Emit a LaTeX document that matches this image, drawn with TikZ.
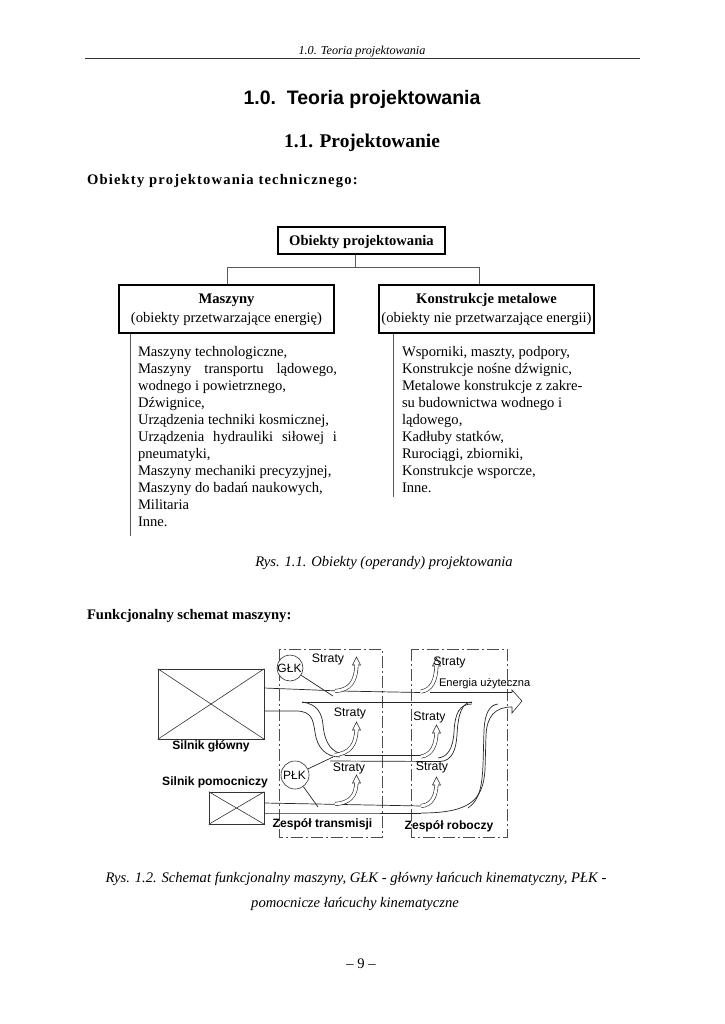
\documentclass[tikz,border=0pt]{standalone}
\usepackage{fontspec}
\setmainfont{Liberation Serif}
\newfontfamily\hv{Liberation Sans}
\usetikzlibrary{calc}
\tikzset{
  txt/.style={inner sep=0pt,outer sep=0pt},
  body/.style={txt,anchor=north west,align=left,font=\fontsize{14.6}{17}\selectfont},
  obox/.style={draw,line width=1.1pt,inner sep=0pt,minimum height=48pt},
  thin gray/.style={draw=black!65,line width=.6pt},
  lab/.style={txt,font=\hv\fontsize{12.3}{14}\selectfont},
  blab/.style={txt,font=\hv\bfseries\fontsize{12.1}{14}\selectfont},
  zone/.style={draw=black!70,line width=.7pt,dash pattern=on 12pt off 3pt on 2pt off 3pt},
  mach/.style={draw=black!80,line width=.6pt},
  flow/.style={draw=black!85,line width=.7pt},
  tube/.style={draw=black!85,line width=.6pt,double=white,double distance=2.8pt},
  head/.style={draw=black!85,line width=.6pt,fill=white},
  circ/.style={draw=black!80,line width=.6pt,circle,fill=white,inner sep=0pt},
}
\newcommand{\uparr}[2]{\draw[head] (#1-1.5,#2+8) -- (#1-4,#2+8) -- (#1,#2) -- (#1+4,#2+8) -- (#1+1.5,#2+8);}
\begin{document}
\begin{tikzpicture}[x=1pt,y=-1pt]
\useasboundingbox (0,0) rectangle (724,1024);
\fill[white] (0,0) rectangle (724,1024);
% header
\node[txt,font=\itshape\fontsize{12.2}{14}\selectfont] (hdr) at (362,51.5) {1.0. Teoria projektowania};
\coordinate (r1) at (85,58); \coordinate (r2) at (640,58);
\draw[line width=.4pt,black!80] (r1) -- (r2);
\node[txt,font=\hv\bfseries\fontsize{19.5}{22}\selectfont] (t1) at (362,99.5) {1.0.\ \ Teoria projektowania};
\node[txt,font=\bfseries\fontsize{19.4}{22}\selectfont] (t2) at (362,143) {1.1. Projektowanie};
\node[txt,anchor=west,font=\bfseries\fontsize{14.6}{17}\selectfont\addfontfeature{LetterSpace=8}] (h1) at (87,181) {Obiekty projektowania technicznego:};
% tree
\node[obox,minimum width=167pt,minimum height=27pt] (root) at (361.5,240.5) {};
\node[txt,font=\bfseries\fontsize{14.6}{17}\selectfont] (roott) at (361.5,242.5) {Obiekty projektowania};
\node[obox,minimum width=215pt,align=center,font=\fontsize{14.6}{19}\selectfont] (m) at (226.5,309) {};
\node[txt,align=center,font=\fontsize{14.6}{19}\selectfont] (mt) at (226.5,310) {\textbf{Maszyny}\\(obiekty przetwarzające energię)};
\node[obox,minimum width=215pt,align=center,font=\fontsize{14.6}{19}\selectfont] (k) at (486.5,309) {};
\node[txt,align=center,font=\fontsize{14.6}{19}\selectfont] (kt) at (486.5,310) {\textbf{Konstrukcje metalowe}\\(obiekty nie przetwarzające energii)};
\coordinate (j0) at ($(root.south)+(-6.5,13)$);
\draw[thin gray] ($(root.south)+(-6.5,0)$) -- (j0) -| (m.north -| 227,285);
\draw[thin gray] (j0) -| (k.north -| 479,285);
\coordinate (b1) at (130,334); \coordinate (b1e) at (130,536);
\coordinate (b2) at (393,334); \coordinate (b2e) at (393,497);
\draw[thin gray] (b1) -- (b1e);
\draw[thin gray] (b2) -- (b2e);
\node[body] (ml) at (138,346.5) {Maszyny technologiczne,\\
\makebox[199pt][s]{Maszyny transportu lądowego,}\\
wodnego i powietrznego,\\
Dźwignice,\\
Urządzenia techniki kosmicznej,\\
\makebox[199pt][s]{Urządzenia hydrauliki siłowej i}\\
pneumatyki,\\
Maszyny mechaniki precyzyjnej,\\
Maszyny do badań naukowych,\\
Militaria\\
Inne.};
\node[body] (kl) at (402,346.5) {Wsporniki, maszty, podpory,\\
Konstrukcje nośne dźwignic,\\
Metalowe konstrukcje z zakre-\\
su budownictwa wodnego i\\
lądowego,\\
Kadłuby statków,\\
Rurociągi, zbiorniki,\\
Konstrukcje wsporcze,\\
Inne.};
\node[txt,font=\itshape\fontsize{14.6}{17}\selectfont] (c1) at (384,563) {Rys. 1.1. Obiekty (operandy) projektowania};
\node[txt,anchor=west,font=\bfseries\fontsize{14.6}{17}\selectfont] (h2) at (87,616) {Funkcjonalny schemat maszyny:};
% zones
\draw[zone] (279,649) rectangle (382,837);
\draw[zone] (411,649) rectangle (507,837);
% flows: main stream
\draw[flow] (264,688) -- (340,691) -- (420,692.5);
\draw[flow] (430,692.5) -- (512,692.5);
\draw[head] (512,692.5) -- (512,690) -- (522,701) -- (512,713) -- (512,707);
\draw[flow] (302,702) -- (472,702);
\draw[flow] (264,711) -- (296,711) .. controls (312,711) and (313,720) .. (315,732) .. controls (317,748) and (326,757) .. (340,757);
\draw[flow] (302,702) .. controls (318,704) and (322,714) .. (323,725) .. controls (325,745) and (332,752) .. (345,755);
\draw[flow] (345,755.5) -- (425,755.5);
\draw[flow] (330,761) -- (440,761.5);
\draw[flow] (440,761.5) .. controls (452,761) and (456,750) .. (457,735) .. controls (458,714) and (462,702) .. (472,702);
\draw[flow] (438,758) .. controls (448,757) and (453,748) .. (454,732) .. controls (455,712) and (460,704) .. (472,704);
% lower streams
\draw[flow] (264,803) -- (422,806);
\draw[flow] (264,813) -- (340,813) -- (421,813);
\draw[flow] (421,813) .. controls (470,813) and (483,800) .. (485,770) -- (486,735) .. controls (487,716) and (495,707) .. (512,707);
\draw[flow] (468,808) .. controls (480,800) and (482,785) .. (483,765) -- (484,730) .. controls (485,712) and (490,705) .. (498,704);
% branches
\draw[tube] (335,691) .. controls (350,690) and (356,682) .. (356.5,664);
\uparr{356.5}{657}
\draw[tube] (335,755) .. controls (350,753) and (356,745) .. (356.5,729);
\uparr{356.5}{722}
\draw[tube] (335,804) .. controls (350,803) and (356,796) .. (356.5,782);
\uparr{356.5}{775}
\draw[tube] (421,691.5) .. controls (432,690) and (436,680) .. (436.5,665);
\uparr{436.5}{658}
\draw[tube] (421,756.5) .. controls (432,755) and (436,745) .. (436.5,732);
\uparr{436.5}{725}
\draw[tube] (421,806) .. controls (432,805) and (436,796) .. (436.5,784);
\uparr{436.5}{777}
% machines
\node[draw=black!80,line width=.6pt,fill=white,minimum width=106pt,minimum height=70pt,inner sep=0pt] (sg) at (211,704) {};
\draw[mach] (sg.north west) -- (sg.south east) (sg.north east) -- (sg.south west);
\node[draw=black!80,line width=.6pt,fill=white,minimum width=55pt,minimum height=32pt,inner sep=0pt] (sp) at (236.5,808) {};
\draw[mach] (sp.north west) -- (sp.south east) (sp.north east) -- (sp.south west);
\node[circ,minimum size=26pt] (g) at (290,668) {};
\node[circ,minimum size=28pt] (p) at (295,775) {};
\node[lab,font=\hv\fontsize{12}{14}\selectfont] (gt) at (289.5,668) {GŁK};
\node[lab,font=\hv\fontsize{12}{14}\selectfont] (pt) at (294.5,775.5) {PŁK};
\coordinate (ga) at (333,696); \coordinate (pa) at (333,757); \coordinate (pb) at (318,807);
\draw[flow] (g) -- (ga);
\draw[flow] (p) -- (pa);
\draw[flow] (p) -- (pb);
% labels
\node[lab] (s1) at (328,659) {Straty};
\node[lab] (s2) at (350,713) {Straty};
\node[lab] (s3) at (349,768) {Straty};
\node[lab] (s4) at (449.5,662) {Straty};
\node[lab] (s5) at (429.5,717) {Straty};
\node[lab] (s6) at (432,767) {Straty};
\node[txt,anchor=west,font=\hv\fontsize{11.1}{13}\selectfont] (eu) at (439,683.5) {Energia użyteczna};
\node[blab] (lg) at (211,746) {Silnik główny};
\node[blab] (lp) at (215,782.5) {Silnik pomocniczy};
\node[blab] (lt) at (322.5,824) {Zespół transmisji};
\node[blab] (lr) at (449,826) {Zespół roboczy};
% caption
\node[txt,font=\itshape\fontsize{14.6}{17}\selectfont] (c2) at (356,878.5) {Rys. 1.2. Schemat funkcjonalny maszyny, GŁK - główny łańcuch kinematyczny, PŁK -};
\node[txt,font=\itshape\fontsize{14.6}{17}\selectfont] (c3) at (355,903.5) {pomocnicze łańcuchy kinematyczne};
\node[txt,font=\fontsize{14.6}{17}\selectfont] (pg) at (361,964) {– 9 –};
\end{tikzpicture}
\end{document}
